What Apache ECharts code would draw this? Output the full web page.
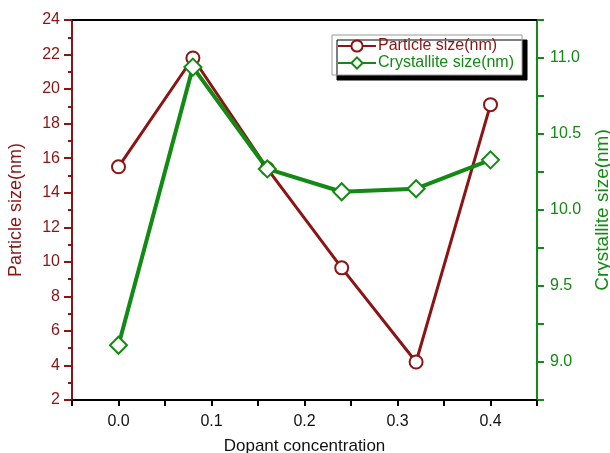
<!DOCTYPE html>
<html>
<head>
<meta charset="utf-8">
<script src="https://cdn.jsdelivr.net/npm/echarts@6/dist/echarts.min.js"></script>
<style>
  html, body { margin: 0; padding: 0; background: #fff; }
  #chart { width: 610px; height: 453px; }
</style>
</head>
<body>
<div id="chart"></div>
<script>
// dopant concentration (x)
const dopant = [0.0, 0.08, 0.16, 0.24, 0.32, 0.4]
// particle size, left axis
const particleSize = [15.5, 21.8, 15.4, 9.65, 4.2, 19.1]
// crystallite size, right axis
const crystalliteSize = [9.11, 10.94, 10.27, 10.12, 10.14, 10.33]

const red = '#8b1414'
const green = '#138a13'
const font = 'Liberation Sans, Arial, sans-serif'

const toPairs = (xs, ys) => xs.map((x, i) => [x, ys[i]])
const onStep = (v, step) => Math.abs(v / step - Math.round(v / step)) < 1e-6

const chart = echarts.init(document.getElementById('chart'))
chart.setOption({
  animation: false,
  grid: { left: 72, right: 73, top: 20, bottom: 53, containLabel: false, outerBoundsMode: 'none' },
  legend: {
    orient: 'vertical',
    left: 332,
    top: 35,
    padding: [3, 8, 4, 5],
    itemGap: 1,
    itemWidth: 38,
    itemHeight: 14,
    backgroundColor: '#fff',
    borderColor: '#999',
    borderWidth: 1,
    shadowColor: '#000',
    shadowBlur: 0,
    shadowOffsetX: 5,
    shadowOffsetY: 5,
    textStyle: { fontFamily: font, fontSize: 16, padding: [0, 0, 0, -3] },
    data: [
      { name: 'Particle size(nm)', textStyle: { color: red } },
      { name: 'Crystallite size(nm)', textStyle: { color: green } }
    ]
  },
  xAxis: [
    {
      type: 'value',
      min: -0.05,
      max: 0.45,
      interval: 0.05,
      name: 'Dopant concentration',
      nameLocation: 'middle',
      nameGap: 38,
      nameTextStyle: { color: '#111', fontFamily: font, fontSize: 17 },
      axisLine: { onZero: false, lineStyle: { color: '#000', width: 2 } },
      axisTick: { inside: false, length: 6, lineStyle: { color: '#000', width: 2 } },
      axisLabel: {
        color: '#111',
        fontFamily: font,
        fontSize: 16,
        margin: 14,
        formatter: v => (onStep(v, 0.1) ? v.toFixed(1) : '')
      },
      splitLine: { show: false }
    },
    {
      type: 'value',
      position: 'top',
      min: -0.05,
      max: 0.45,
      axisLine: { show: true, onZero: false, lineStyle: { color: '#000', width: 2 } },
      axisTick: { show: false },
      axisLabel: { show: false },
      splitLine: { show: false }
    }
  ],
  yAxis: [
    {
      type: 'value',
      min: 2,
      max: 24,
      interval: 2,
      name: 'Particle size(nm)',
      nameLocation: 'middle',
      nameGap: 47,
      nameTextStyle: { color: red, fontFamily: font, fontSize: 18 },
      axisLine: { show: true, onZero: false, lineStyle: { color: red, width: 2 } },
      axisTick: { show: true, length: 8, lineStyle: { color: red, width: 2 } },
      minorTick: { show: true, splitNumber: 2, length: 4, lineStyle: { color: red, width: 2 } },
      axisLabel: { color: red, fontFamily: font, fontSize: 16, margin: 12 },
      splitLine: { show: false }
    },
    {
      type: 'value',
      position: 'right',
      min: 8.75,
      max: 11.25,
      interval: 0.25,
      name: 'Crystallite size(nm)',
      nameLocation: 'middle',
      nameGap: 56,
      nameRotate: 90,
      nameTextStyle: { color: green, fontFamily: font, fontSize: 19 },
      axisLine: { show: true, onZero: false, lineStyle: { color: green, width: 2 } },
      axisTick: { show: true, length: 7, lineStyle: { color: green, width: 2 } },
      axisLabel: {
        color: green,
        fontFamily: font,
        fontSize: 16,
        margin: 13,
        formatter: v => (onStep(v, 0.5) ? v.toFixed(1) : '')
      },
      splitLine: { show: false }
    }
  ],
  series: [
    {
      name: 'Particle size(nm)',
      type: 'line',
      yAxisIndex: 0,
      data: toPairs(dopant, particleSize),
      symbol: 'emptyCircle',
      symbolSize: 13,
      lineStyle: { color: red, width: 3 },
      itemStyle: { color: red, borderColor: red, borderWidth: 2 }
    },
    {
      name: 'Crystallite size(nm)',
      type: 'line',
      yAxisIndex: 1,
      data: toPairs(dopant, crystalliteSize),
      symbol: 'diamond',
      symbolSize: 17,
      lineStyle: { color: green, width: 4 },
      itemStyle: { color: '#fff', borderColor: green, borderWidth: 2 }
    }
  ]
})
</script>
</body>
</html>
